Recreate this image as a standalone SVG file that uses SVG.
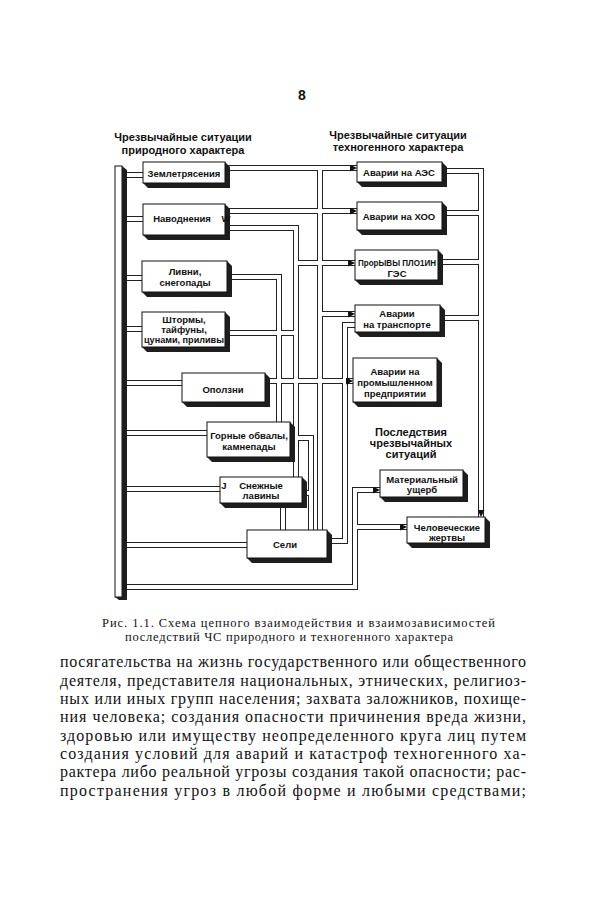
<svg xmlns="http://www.w3.org/2000/svg" width="600" height="900" viewBox="0 0 600 900">
<style>
.box{fill:#fff;stroke:#111;stroke-width:1}
.sh{fill:#1e1e1e}
.lbl{font-family:"Liberation Sans",Arial,sans-serif;font-weight:bold;font-size:9.5px;text-anchor:middle;fill:#111}
.hdr{font-family:"Liberation Sans",Arial,sans-serif;font-weight:bold;font-size:11px;text-anchor:middle;fill:#111}
.po{fill:none;stroke:#222;stroke-width:6}
.pi{fill:none;stroke:#fff;stroke-width:4}
.cap{font-family:"Liberation Serif","Times New Roman",serif;font-size:12.5px;fill:#111}
.body{font-family:"Liberation Serif","Times New Roman",serif;font-size:16px;fill:#111}
</style>
<defs>
<marker id="ar" viewBox="0 0 8 8" refX="8" refY="4" markerWidth="7" markerHeight="7" markerUnits="userSpaceOnUse" orient="auto">
<path d="M0,0 L8,4 L0,8 z" fill="#111"/>
</marker>
<path id="b1" d="M121,175 H143"/>
<path id="b2" d="M121,219 H143"/>
<path id="b3" d="M121,278 H142"/>
<path id="b4" d="M121,329 H142"/>
<path id="b5" d="M121,383 H182"/>
<path id="b6" d="M121,433 H207"/>
<path id="b7" d="M121,489 H220"/>
<path id="b8" d="M121,545 H247"/>
<path id="b9" d="M121,587 H355 V490 H380"/>
<path id="b10" d="M355,527 H407"/>
<path id="c1" d="M220,168 H357"/>
<path id="c2" d="M320,168 V530"/>
<path id="c3" d="M220,211 H357"/>
<path id="c4" d="M220,228 H296 V477"/>
<path id="c5" d="M296,263 H355"/>
<path id="c6" d="M220,333 H296"/>
<path id="c7" d="M220,277 H279 V422"/>
<path id="c8" d="M320,314 H355"/>
<path id="c9" d="M360,325 H345 V541 H328"/>
<path id="c10" d="M260,381 H353"/>
<path id="c11" d="M285,438 H311 V530"/>
<path id="c12" d="M300,493 H311"/>
<path id="c13" d="M283,503 V530"/>
<path id="r1" d="M440,171 H481 V517"/>
<path id="r2" d="M440,213 H481"/>
<path id="r3" d="M436,262 H481"/>
<path id="r4" d="M438,318 H481"/>
</defs>

<text x="302" y="100" font-family="Liberation Sans, Arial, sans-serif" font-weight="bold" font-size="14" text-anchor="middle" fill="#111">8</text>

<g id="headers">
<text class="hdr" x="183" y="141">Чрезвычайные ситуации</text>
<text class="hdr" x="183" y="154">природного характера</text>
<text class="hdr" x="398" y="139">Чрезвычайные ситуации</text>
<text class="hdr" x="398" y="151">техногенного характера</text>
<text class="hdr" x="411" y="436">Последствия</text>
<text class="hdr" x="411" y="447">чрезвычайных</text>
<text class="hdr" x="411" y="458">ситуаций</text>
</g>

<g id="connectors">
<g class="po">
<use href="#b1"/><use href="#b2"/><use href="#b3"/><use href="#b4"/><use href="#b5"/><use href="#b6"/><use href="#b7"/><use href="#b8"/><use href="#b9"/><use href="#b10"/>
<use href="#c1"/><use href="#c2"/><use href="#c3"/><use href="#c4"/><use href="#c5"/><use href="#c6"/><use href="#c7"/><use href="#c8"/><use href="#c9"/><use href="#c10"/><use href="#c11"/><use href="#c12"/><use href="#c13"/>
<use href="#r1"/><use href="#r2"/><use href="#r3"/><use href="#r4"/>
</g>
<g class="pi">
<use href="#b1"/><use href="#b2"/><use href="#b3"/><use href="#b4"/><use href="#b5"/><use href="#b6"/><use href="#b7"/><use href="#b8"/>
<use href="#b9" marker-end="url(#ar)"/><use href="#b10" marker-end="url(#ar)"/>
<use href="#c1" marker-end="url(#ar)"/><use href="#c2"/><use href="#c3" marker-end="url(#ar)"/><use href="#c4"/><use href="#c5" marker-end="url(#ar)"/><use href="#c6"/><use href="#c7"/><use href="#c8" marker-end="url(#ar)"/><use href="#c9"/><use href="#c10" marker-end="url(#ar)"/><use href="#c11"/><use href="#c12"/><use href="#c13"/>
<use href="#r1" marker-end="url(#ar)"/><use href="#r2"/><use href="#r3"/><use href="#r4"/>
</g>
</g>

<g id="bus">
<rect x="115" y="166" width="7" height="431" fill="#fff" stroke="#111" stroke-width="1"/>
<polygon points="122,166 127,170 127,600 119,600 115,597 122,597" fill="#1e1e1e"/>
</g>

<g id="n-zemletr">
<polygon class="sh" points="225,162 230,167 230,188 148,188 143,183"/>
<rect class="box" x="143" y="162" width="82" height="21"/>
<text class="lbl" x="184" y="177">Землетрясения</text>
</g>
<g id="n-navodn">
<polygon class="sh" points="225,204 230,209 230,240 148,240 143,235"/>
<rect class="box" x="143" y="204" width="82" height="31"/>
<text class="lbl" x="182" y="222">Наводнения</text>
<text class="lbl" x="226" y="222" font-size="10">W</text>
</g>
<g id="n-livni">
<polygon class="sh" points="227,261 232,266 232,297 147,297 142,292"/>
<rect class="box" x="142" y="261" width="85" height="31"/>
<text class="lbl" x="185" y="275">Ливни,</text>
<text class="lbl" x="185" y="286">снегопады</text>
</g>
<g id="n-shtormy">
<polygon class="sh" points="225,312 230,317 230,352 147,352 142,347"/>
<rect class="box" x="142" y="312" width="83" height="35"/>
<text class="lbl" x="184" y="323">Штормы,</text>
<text class="lbl" x="184" y="333">тайфуны,</text>
<text class="lbl" x="184" y="343" textLength="80" lengthAdjust="spacingAndGlyphs">цунами, приливы</text>
</g>
<g id="n-opolzni">
<polygon class="sh" points="265,373 270,378 270,407 187,407 182,402"/>
<rect class="box" x="182" y="373" width="83" height="29"/>
<text class="lbl" x="223" y="393">Оползни</text>
</g>
<g id="n-gornye">
<polygon class="sh" points="290,422 295,427 295,462 212,462 207,457"/>
<rect class="box" x="207" y="422" width="83" height="35"/>
<text class="lbl" x="249" y="439">Горные обвалы,</text>
<text class="lbl" x="249" y="450">камнепады</text>
</g>
<g id="n-snezh">
<polygon class="sh" points="302,477 307,482 307,508 225,508 220,503"/>
<rect class="box" x="220" y="477" width="82" height="26"/>
<text class="lbl" x="224" y="489" font-size="9">J</text>
<text class="lbl" x="261" y="489">Снежные</text>
<text class="lbl" x="261" y="499">лавины</text>
</g>
<g id="n-seli">
<polygon class="sh" points="327,530 332,535 332,563 252,563 247,558"/>
<rect class="box" x="247" y="530" width="80" height="28"/>
<text class="lbl" x="285" y="548">Сели</text>
</g>

<g id="n-aes">
<polygon class="sh" points="442,162 447,167 447,187 362,187 357,182"/>
<rect class="box" x="357" y="162" width="85" height="20"/>
<text class="lbl" x="399" y="176">Аварии на АЭС</text>
</g>
<g id="n-hoo">
<polygon class="sh" points="442,202 447,207 447,235 362,235 357,230"/>
<rect class="box" x="357" y="202" width="85" height="28"/>
<text class="lbl" x="399" y="220">Аварии на ХОО</text>
</g>
<g id="n-proryvy">
<polygon class="sh" points="438,250 443,255 443,285 360,285 355,280"/>
<rect class="box" x="355" y="250" width="83" height="30"/>
<text class="lbl" x="397" y="266" font-weight="normal" textLength="78" lengthAdjust="spacingAndGlyphs">ПрорЫВЫ ПЛО1ИН</text>
<text class="lbl" x="397" y="277" font-weight="normal">ГЭС</text>
</g>
<g id="n-transport">
<polygon class="sh" points="440,305 445,310 445,337 360,337 355,332"/>
<rect class="box" x="355" y="305" width="85" height="27"/>
<text class="lbl" x="397" y="317">Аварии</text>
<text class="lbl" x="397" y="328">на транспорте</text>
</g>
<g id="n-prom">
<polygon class="sh" points="437,358 442,363 442,407 358,407 353,402"/>
<rect class="box" x="353" y="358" width="84" height="44"/>
<text class="lbl" x="395" y="375">Аварии на</text>
<text class="lbl" x="395" y="386">промышленном</text>
<text class="lbl" x="395" y="397">предприятии</text>
</g>
<g id="n-mater">
<polygon class="sh" points="463,470 468,475 468,502 385,502 380,497"/>
<rect class="box" x="380" y="470" width="83" height="27"/>
<text class="lbl" x="422" y="483">Материальный</text>
<text class="lbl" x="422" y="493">ущерб</text>
</g>
<g id="n-chelov">
<polygon class="sh" points="485,517 490,522 490,548 412,548 407,543"/>
<rect class="box" x="407" y="517" width="78" height="26"/>
<text class="lbl" x="447" y="531" font-weight="normal">Человеческие</text>
<text class="lbl" x="447" y="541">жертвы</text>
</g>

<g id="caption">
<text class="cap" x="102" y="627" textLength="393" lengthAdjust="spacing">Рис. 1.1. Схема цепного взаимодействия и взаимозависимостей</text>
<text class="cap" x="125" y="641" textLength="328" lengthAdjust="spacing">последствий ЧС природного и техногенного характера</text>
</g>

<g id="body">
<text class="body" x="60" y="667" textLength="466" lengthAdjust="spacing">посягательства на жизнь государственного или общественного</text>
<text class="body" x="60" y="686" textLength="466" lengthAdjust="spacing">деятеля, представителя национальных, этнических, религиоз-</text>
<text class="body" x="60" y="704" textLength="466" lengthAdjust="spacing">ных или иных групп населения; захвата заложников, похище-</text>
<text class="body" x="60" y="722" textLength="466" lengthAdjust="spacing">ния человека; создания опасности причинения вреда жизни,</text>
<text class="body" x="60" y="741" textLength="466" lengthAdjust="spacing">здоровью или имуществу неопределенного круга лиц путем</text>
<text class="body" x="60" y="759" textLength="466" lengthAdjust="spacing">создания условий для аварий и катастроф техногенного ха-</text>
<text class="body" x="60" y="777" textLength="466" lengthAdjust="spacing">рактера либо реальной угрозы создания такой опасности; рас-</text>
<text class="body" x="60" y="796" textLength="466" lengthAdjust="spacing">пространения угроз в любой форме и любыми средствами;</text>
</g>
</svg>
